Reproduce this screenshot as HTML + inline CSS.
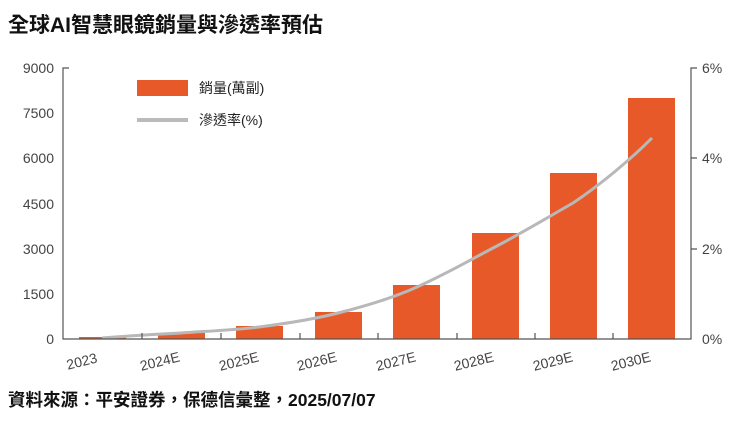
<!DOCTYPE html>
<html><head><meta charset="utf-8"><style>
body{margin:0;background:#fff;}
svg text{font-family:"Liberation Sans","Noto Sans CJK TC",sans-serif;}
</style></head><body>
<svg width="750" height="418" xmlns="http://www.w3.org/2000/svg">
<text x="8" y="32" font-size="21" font-weight="bold" fill="#111">全球AI智慧眼鏡銷量與滲透率預估</text>
<g fill="#e8592a">
<rect x="79" y="337" width="47" height="2"/>
<rect x="158" y="333" width="47" height="6"/>
<rect x="236" y="326" width="47" height="13"/>
<rect x="315" y="312" width="47" height="27"/>
<rect x="393" y="285" width="47" height="54"/>
<rect x="472" y="233" width="47" height="106"/>
<rect x="550" y="173" width="47" height="166"/>
<rect x="628" y="98" width="47" height="241"/>
</g>
<path d="M102,338 C140,335 160,334 181,333 C210,331 235,330 259,327 C290,323 315,319 338,313 C370,305 395,297 417,287 C450,272 470,260 495,247 C520,234 545,219 573,203 C600,185 630,160 652,138" fill="none" stroke="#b8b8b8" stroke-width="3"/>
<g stroke="#555" stroke-width="1.2" fill="none">
<path d="M69,68 H63 V339 H691 V68 H697"/>
<path d="M697,158 H691 M697,249 H691"/>
<path d="M142,339 V333 M221,339 V333 M300,339 V333 M378,339 V333 M457,339 V333 M535,339 V333 M613,339 V333"/>
</g>
<g font-size="14" fill="#444" text-anchor="end">
<text x="54" y="73">9000</text><text x="54" y="118">7500</text><text x="54" y="163">6000</text><text x="54" y="209">4500</text><text x="54" y="254">3000</text><text x="54" y="299">1500</text><text x="54" y="344">0</text>
</g>
<g font-size="14" fill="#444">
<text x="702" y="73">6%</text><text x="702" y="163">4%</text><text x="702" y="254">2%</text><text x="702" y="344">0%</text>
</g>
<g font-size="14" fill="#444" text-anchor="middle">
<text transform="translate(83,366) rotate(-14)">2023</text>
<text transform="translate(161,366) rotate(-14)">2024E</text>
<text transform="translate(240,366) rotate(-14)">2025E</text>
<text transform="translate(318,366) rotate(-14)">2026E</text>
<text transform="translate(397,366) rotate(-14)">2027E</text>
<text transform="translate(475,366) rotate(-14)">2028E</text>
<text transform="translate(554,366) rotate(-14)">2029E</text>
<text transform="translate(632,366) rotate(-14)">2030E</text>
</g>
<rect x="137" y="80" width="51" height="16" fill="#e8592a"/>
<text x="199" y="93" font-size="14" fill="#222">銷量(萬副)</text>
<line x1="137" y1="120" x2="188" y2="120" stroke="#bbb" stroke-width="4"/>
<text x="199" y="125" font-size="14" fill="#222">滲透率(%)</text>
<text x="8" y="406" font-size="17.5" font-weight="bold" fill="#111">資料來源：平安證券，保德信彙整，2025/07/07</text>
</svg>
</body></html>
